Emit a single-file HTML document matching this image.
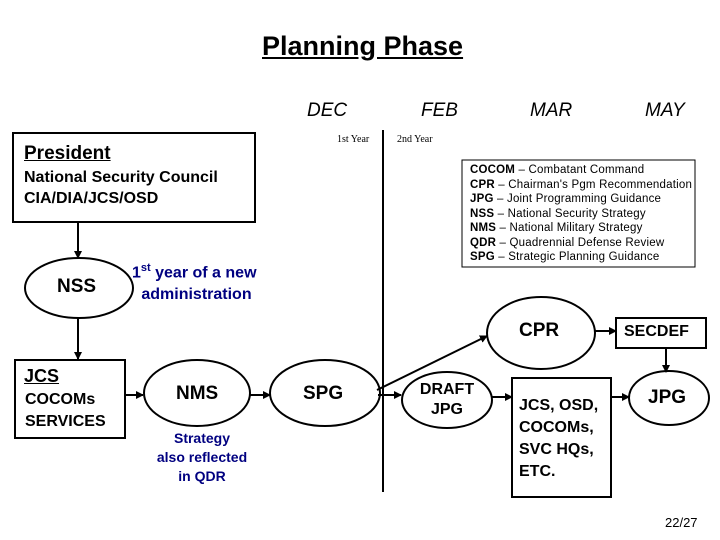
<!DOCTYPE html>
<html><head><style>
body{margin:0;width:720px;height:540px;background:#fff;position:relative;overflow:hidden;font-family:"Liberation Sans",Arial,sans-serif}
.t{position:absolute;white-space:nowrap}
</style></head><body>
<svg width="720" height="540" style="position:absolute;left:0;top:0">
<defs><marker id="a" markerWidth="8" markerHeight="8" refX="7" refY="4" orient="auto" markerUnits="userSpaceOnUse"><path d="M0,0 L8,4 L0,8 z" fill="#000"/></marker></defs>
<g stroke="#000" stroke-width="2" fill="#fff">
<rect x="13" y="133" width="242" height="89"/>
<ellipse cx="79" cy="288" rx="54" ry="30"/>
<rect x="15" y="360" width="110" height="78"/>
<ellipse cx="197" cy="393" rx="53" ry="33"/>
<ellipse cx="325" cy="393" rx="55" ry="33"/>
<line x1="383" y1="130" x2="383" y2="492"/>
<ellipse cx="541" cy="333" rx="54" ry="36"/>
<rect x="616" y="318" width="90" height="30"/>
<ellipse cx="669" cy="398" rx="40" ry="27"/>
<rect x="512" y="378" width="99" height="119"/>
<ellipse cx="447" cy="400" rx="45" ry="28"/>
</g>
<rect x="462" y="160" width="233" height="107" fill="none" stroke="#000" stroke-width="1"/>
<g stroke="#000" stroke-width="2" marker-end="url(#a)">
<line x1="78" y1="222" x2="78" y2="258"/>
<line x1="78" y1="318" x2="78" y2="359"/>
<line x1="125" y1="395" x2="143" y2="395"/>
<line x1="250" y1="395" x2="270" y2="395"/>
<line x1="378" y1="395" x2="401" y2="395"/>
<line x1="377" y1="390" x2="487" y2="336"/>
<line x1="492" y1="397" x2="512" y2="397"/>
<line x1="611" y1="397" x2="629" y2="397"/>
<line x1="595" y1="331" x2="616" y2="331"/>
<line x1="666" y1="348" x2="666" y2="372"/>
</g>
</svg>
<div class="t" style="left:262px;top:31px;font-size:27px;font-weight:bold;text-decoration:underline">Planning Phase</div>
<div class="t" style="left:307px;top:100px;font-size:19px;font-style:italic">DEC</div>
<div class="t" style="left:421px;top:100px;font-size:19px;font-style:italic">FEB</div>
<div class="t" style="left:530px;top:100px;font-size:19px;font-style:italic">MAR</div>
<div class="t" style="left:645px;top:100px;font-size:19px;font-style:italic">MAY</div>
<div class="t" style="left:337px;top:134px;font-size:10px;font-family:'Liberation Serif',serif">1st Year</div>
<div class="t" style="left:397px;top:134px;font-size:10px;font-family:'Liberation Serif',serif">2nd Year</div>
<div class="t" style="left:24px;top:143px;font-size:19px;font-weight:bold;text-decoration:underline">President</div>
<div class="t" style="left:24px;top:167px;font-size:16px;font-weight:bold;line-height:21px">National Security Council<br>CIA/DIA/JCS/OSD</div>
<div class="t" style="left:57px;top:276px;font-size:19px;font-weight:bold">NSS</div>
<div class="t" style="left:132px;top:257px;font-size:16px;font-weight:bold;color:#000080;text-align:center;line-height:22px">1<sup style="font-size:11px">st</sup> year of a new<br>&nbsp;administration</div>
<div class="t" style="left:24px;top:366px;font-size:18px;font-weight:bold;text-decoration:underline">JCS</div>
<div class="t" style="left:25px;top:389px;font-size:16px;font-weight:bold;line-height:22px">COCOMs<br>SERVICES</div>
<div class="t" style="left:176px;top:383px;font-size:19px;font-weight:bold">NMS</div>
<div class="t" style="left:150px;top:429px;font-size:14px;font-weight:bold;color:#000080;text-align:center;line-height:19px;width:104px">Strategy<br>also reflected<br>in QDR</div>
<div class="t" style="left:303px;top:383px;font-size:19px;font-weight:bold">SPG</div>
<div class="t" style="left:410px;top:380px;font-size:16px;font-weight:bold;text-align:center;line-height:20px;width:74px">DRAFT<br>JPG</div>
<div class="t" style="left:519px;top:320px;font-size:19px;font-weight:bold">CPR</div>
<div class="t" style="left:624px;top:323px;font-size:16px;font-weight:bold">SECDEF</div>
<div class="t" style="left:648px;top:387px;font-size:19px;font-weight:bold">JPG</div>
<div class="t" style="left:519px;top:395px;font-size:16px;font-weight:bold;line-height:22px">JCS, OSD,<br>COCOMs,<br>SVC HQs,<br>ETC.</div>
<div class="t" style="left:470px;top:163px;font-size:11.5px;letter-spacing:0.2px;line-height:14.5px"><b>COCOM</b> – Combatant Command<br><b>CPR</b> – Chairman's Pgm Recommendation<br><b>JPG</b> – Joint Programming Guidance<br><b>NSS</b> – National Security Strategy<br><b>NMS</b> – National Military Strategy<br><b>QDR</b> – Quadrennial Defense Review<br><b>SPG</b> – Strategic Planning Guidance</div>
<div class="t" style="left:665px;top:515px;font-size:13px">22/27</div>
</body></html>
